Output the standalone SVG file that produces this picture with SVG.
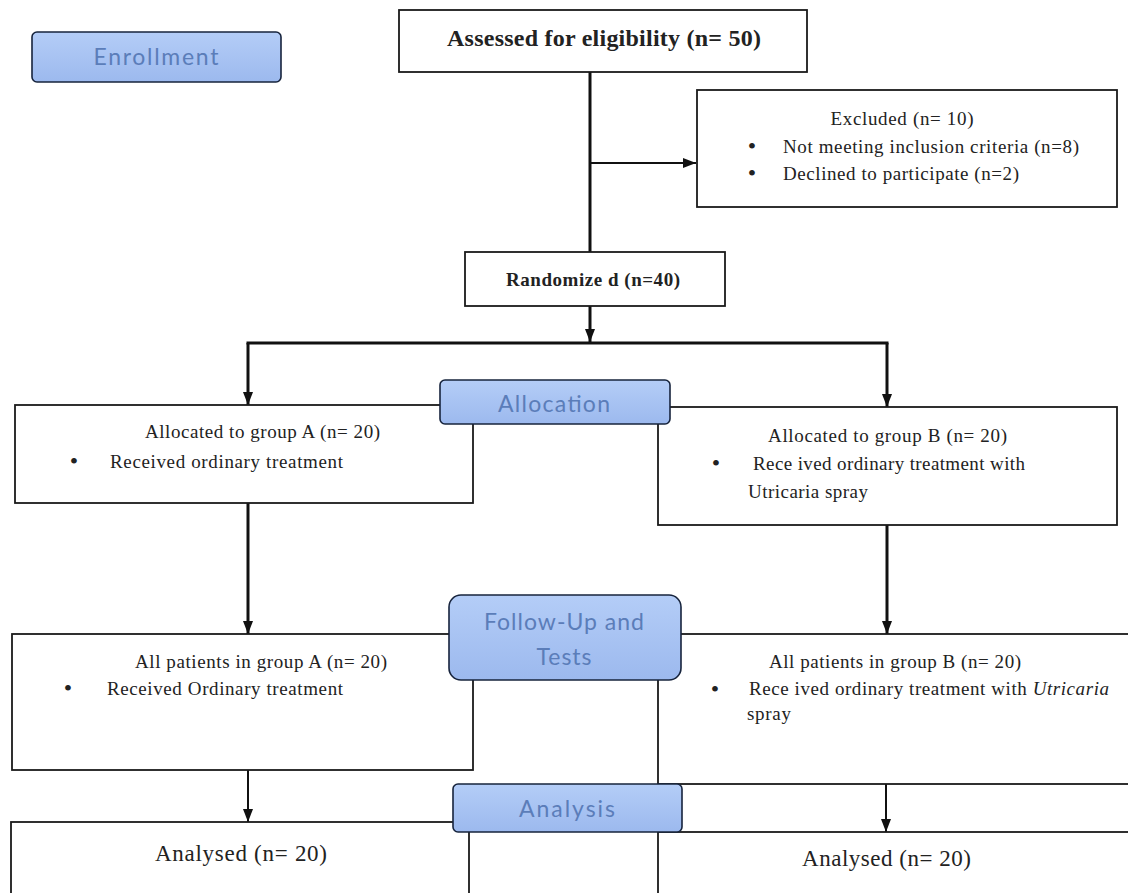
<svg xmlns="http://www.w3.org/2000/svg" width="1128" height="893" viewBox="0 0 1128 893">
<style>
.box{fill:#fff;stroke:#1a1a1a;stroke-width:1.8}
.lbl{stroke:#17243d;stroke-width:1.6;fill:url(#lg)}
.lt{font-family:Lato,"Open Sans",sans-serif;font-size:23px;fill:#5b7db9;text-anchor:middle}
.t{font-family:"Liberation Serif",serif;font-size:19px;fill:#222}
.c{text-anchor:middle}
.b{font-weight:bold}
.big{font-size:24px}
.an{font-size:23px}
.bu{font-size:24px;text-anchor:middle}
.thick{stroke:#111;stroke-width:3;fill:none}
.thin{stroke:#111;stroke-width:2;fill:none}
</style>
<defs>
<linearGradient id="lg" x1="0" y1="0" x2="0" y2="1">
<stop offset="0" stop-color="#b4cdf7"/>
<stop offset="1" stop-color="#9cb9ee"/>
</linearGradient>
<marker id="ah" markerUnits="userSpaceOnUse" markerWidth="14" markerHeight="14" viewBox="0 0 14 14" refX="13" refY="7" orient="auto">
<path d="M0,2 L13,7 L0,12 Z" fill="#111"/>
</marker>
</defs>
<rect width="1128" height="893" fill="#fff"/>

<g id="connectors">
<line class="thick" x1="590" y1="72" x2="590" y2="252"/>
<line class="thin" x1="590" y1="163" x2="696" y2="163" marker-end="url(#ah)"/>
<line class="thick" x1="590" y1="306" x2="590" y2="342" marker-end="url(#ah)"/>
<line class="thick" x1="246.5" y1="343" x2="888.5" y2="343"/>
<line class="thick" x1="248" y1="343" x2="248" y2="405" marker-end="url(#ah)"/>
<line class="thick" x1="887" y1="343" x2="887" y2="407" marker-end="url(#ah)"/>
<line class="thick" x1="248" y1="503" x2="248" y2="634" marker-end="url(#ah)"/>
<line class="thick" x1="887" y1="525" x2="887" y2="634" marker-end="url(#ah)"/>
<line class="thin" x1="248" y1="770" x2="248" y2="822" marker-end="url(#ah)"/>
<line class="thin" x1="886" y1="784" x2="886" y2="832" marker-end="url(#ah)"/>
</g>

<g id="assessed">
<rect class="box" x="399" y="10" width="408" height="62"/>
<text class="t b c big" x="604" y="46" textLength="314" lengthAdjust="spacing">Assessed for eligibility (n= 50)</text>
</g>

<g id="excluded">
<rect class="box" x="697" y="90" width="420" height="117"/>
<text class="t c" x="902" y="125" textLength="143" lengthAdjust="spacing">Excluded (n= 10)</text>
<text class="t bu" x="752" y="154">•</text>
<text class="t" x="783" y="153" textLength="296" lengthAdjust="spacing">Not meeting inclusion criteria (n=8)</text>
<text class="t bu" x="752" y="181">•</text>
<text class="t" x="783" y="180" textLength="236" lengthAdjust="spacing">Declined to participate (n=2)</text>
</g>

<g id="randomized">
<rect class="box" x="465" y="252" width="260" height="54"/>
<text class="t b" x="506" y="286" textLength="174" lengthAdjust="spacing">Randomize d (n=40)</text>
</g>

<g id="alloc-a">
<rect class="box" x="15" y="405" width="458" height="98"/>
<text class="t" x="145" y="438" textLength="235" lengthAdjust="spacing">Allocated to group A (n= 20)</text>
<text class="t bu" x="74" y="469">•</text>
<text class="t" x="110" y="468" textLength="233" lengthAdjust="spacing">Received ordinary treatment</text>
</g>

<g id="alloc-b">
<rect class="box" x="658" y="407" width="459" height="118"/>
<text class="t" x="768" y="442" textLength="239" lengthAdjust="spacing">Allocated to group B (n= 20)</text>
<text class="t bu" x="716" y="471">•</text>
<text class="t" x="753" y="470" textLength="272" lengthAdjust="spacing">Rece ived ordinary treatment with</text>
<text class="t" x="748" y="498" textLength="120" lengthAdjust="spacing">Utricaria spray</text>
</g>

<g id="follow-a">
<rect class="box" x="12" y="634" width="461" height="136"/>
<text class="t" x="135" y="668" textLength="252" lengthAdjust="spacing">All patients in group A (n= 20)</text>
<text class="t bu" x="68" y="696">•</text>
<text class="t" x="107" y="695" textLength="236" lengthAdjust="spacing">Received Ordinary treatment</text>
</g>

<g id="follow-b">
<rect class="box" x="658" y="634" width="480" height="150"/>
<text class="t" x="769" y="668" textLength="252" lengthAdjust="spacing">All patients in group B (n= 20)</text>
<text class="t bu" x="715" y="697">•</text>
<text class="t" x="749" y="695" textLength="360" lengthAdjust="spacing">Rece ived ordinary treatment with <tspan font-style="italic">Utricaria</tspan></text>
<text class="t" x="747" y="720" textLength="44" lengthAdjust="spacing">spray</text>
</g>

<g id="analysed-a">
<rect class="box" x="11" y="822" width="458" height="90"/>
<text class="t an" x="155" y="861" textLength="172" lengthAdjust="spacing">Analysed (n= 20)</text>
</g>

<g id="analysed-b">
<rect class="box" x="658" y="832" width="480" height="90"/>
<text class="t an" x="802" y="866" textLength="169" lengthAdjust="spacing">Analysed (n= 20)</text>
</g>

<g id="label-enrollment">
<rect class="lbl" x="32" y="32" width="249" height="50" rx="5"/>
<text class="lt" x="156" y="65" textLength="125" lengthAdjust="spacing">Enrollment</text>
</g>

<g id="label-allocation">
<rect class="lbl" x="440" y="380" width="230" height="44" rx="5"/>
<text class="lt" x="554" y="412" textLength="112" lengthAdjust="spacing">Allocation</text>
</g>

<g id="label-followup">
<rect class="lbl" x="449" y="595" width="232" height="85" rx="12"/>
<text class="lt" x="564" y="630" textLength="160" lengthAdjust="spacing">Follow-Up and</text>
<text class="lt" x="564" y="665" textLength="55" lengthAdjust="spacing">Tests</text>
</g>

<g id="label-analysis">
<rect class="lbl" x="453" y="784" width="229" height="48" rx="5"/>
<text class="lt" x="567" y="817" textLength="96" lengthAdjust="spacing">Analysis</text>
</g>
</svg>
